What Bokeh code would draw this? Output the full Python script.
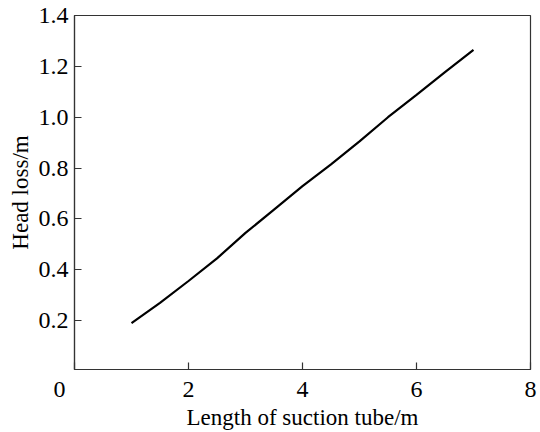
from bokeh.plotting import figure
from bokeh.embed import file_html
from bokeh.resources import INLINE
from bokeh.models import Range1d, FixedTicker, NumeralTickFormatter

length_m = [1.0, 1.5, 2.0, 2.5, 3.0, 3.5, 4.0, 4.5, 5.0, 5.5, 6.0, 6.5, 7.0]
head_loss_m = [0.19, 0.27, 0.356, 0.445, 0.545, 0.637, 0.729, 0.815, 0.905, 1.00, 1.088, 1.177, 1.265]
x_ticks = [0, 2, 4, 6, 8]
y_ticks = [0.2, 0.4, 0.6, 0.8, 1.0, 1.2, 1.4]

FONT = "Liberation Serif"

p = figure(width=540, height=432, output_backend="svg", toolbar_location=None,
           x_range=Range1d(0, 8), y_range=Range1d(0.008, 1.4),
           min_border_left=74, min_border_right=10, min_border_top=15, min_border_bottom=59)
p.grid.visible = False
p.background_fill_color = "white"
p.border_fill_color = "white"
p.outline_line_color = "#333333"
p.outline_line_width = 1.2

p.line(length_m, head_loss_m, line_color="black", line_width=2.2)

for ax in (p.xaxis[0], p.yaxis[0]):
    ax.axis_line_color = "#333333"
    ax.axis_line_width = 1.2
    ax.major_tick_in = 7
    ax.major_tick_out = 0
    ax.minor_tick_in = 0
    ax.minor_tick_out = 0
    ax.major_tick_line_color = "#333333"
    ax.major_tick_line_width = 1.2
    ax.major_label_text_font = FONT
    ax.major_label_text_font_size = "24px"
    ax.major_label_text_color = "black"
    ax.axis_label_text_font = FONT
    ax.axis_label_text_font_size = "23px"
    ax.axis_label_text_font_style = "normal"
    ax.axis_label_text_color = "black"

p.xaxis.ticker = FixedTicker(ticks=x_ticks)
p.yaxis.ticker = FixedTicker(ticks=y_ticks)
p.yaxis.formatter = NumeralTickFormatter(format="0.0")
p.xaxis.major_label_overrides = {0: "0\u00a0\u00a0\u00a0\u00a0\u00a0"}
p.xaxis.axis_label = "Length of suction tube/m"
p.yaxis.axis_label = "Head loss/m"
p.xaxis.major_label_standoff = 6
p.yaxis.major_label_standoff = 6
p.xaxis.axis_label_standoff = 0
p.yaxis.axis_label_standoff = 3
p.yaxis.major_label_text_align = "right"

open("out.html", "w").write(file_html(p, INLINE))
